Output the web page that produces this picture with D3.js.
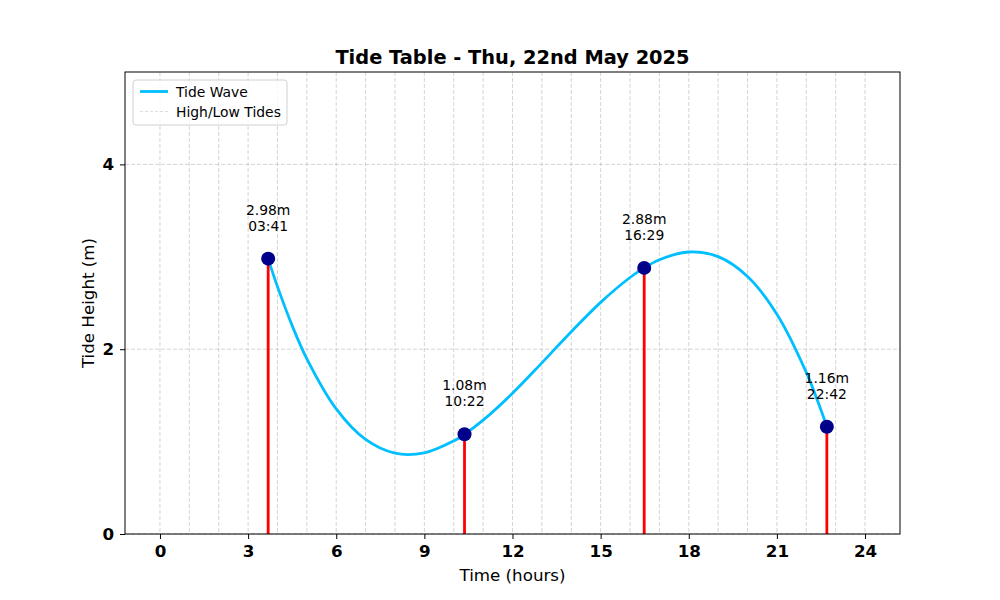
<!DOCTYPE html>
<html>
<head>
<meta charset="utf-8">
<script src="https://cdn.jsdelivr.net/npm/d3@7"></script>
<style>
  body { margin: 0; background: #fff; }
  svg { font-family: "DejaVu Sans", sans-serif; }
</style>
</head>
<body>
<svg id="chart" width="1000" height="600"></svg>
<script>
// tide extremes for the day
const tideTimes = ["03:41", "10:22", "16:29", "22:42"];
const tideHeights = [2.98, 1.08, 2.88, 1.16];

// tide wave (hours, metres)
const waveHours = [3.68, 4, 4.5, 5, 6, 7, 8, 9, 10, 10.37, 11, 12, 13, 14, 15, 16, 16.48, 17, 18, 19, 20, 21, 22, 22.5, 22.7];
const waveHeights = [2.98, 2.677, 2.255, 1.896, 1.354, 1.023, 0.874, 0.878, 1.007, 1.08, 1.232, 1.523, 1.852, 2.189, 2.507, 2.776, 2.88, 2.968, 3.052, 3.002, 2.787, 2.379, 1.749, 1.342, 1.16];

const xTicks = [0, 3, 6, 9, 12, 15, 18, 21, 24];
const yTicks = [0, 2, 4];
const gridHours = d3.range(0, 25);

const toHours = (t) => {
  const [h, m] = t.split(":").map(Number);
  return h + m / 60;
};
const tides = tideTimes.map((t, i) => ({ time: t, hour: toHours(t), height: tideHeights[i] }));
const wave = waveHours.map((h, i) => ({ hour: h, height: waveHeights[i] }));

// -------------------------------------------------
// Dimensions
// -------------------------------------------------
const margin = { top: 72, right: 100, bottom: 66, left: 125 };
const width = 1000 - margin.left - margin.right;
const height = 600 - margin.top - margin.bottom;

const svg = d3.select("#chart");
const g = svg.append("g").attr("transform", `translate(${margin.left},${margin.top})`);

const x = d3.scaleLinear().domain([-1.19, 25.19]).range([0, width]);
const y = d3.scaleLinear().domain([0, 5]).range([height, 0]);

// -------------------------------------------------
// Grid (hourly verticals, dashed)
// -------------------------------------------------
g.append("g")
  .selectAll("line")
  .data(gridHours)
  .join("line")
  .attr("x1", (d) => x(d)).attr("x2", (d) => x(d))
  .attr("y1", 0).attr("y2", height)
  .attr("stroke", "#b0b0b0").attr("stroke-opacity", 0.6)
  .attr("stroke-width", 0.9).attr("stroke-dasharray", "4,2");

g.append("g")
  .selectAll("line")
  .data(yTicks)
  .join("line")
  .attr("x1", 0).attr("x2", width)
  .attr("y1", (d) => y(d)).attr("y2", (d) => y(d))
  .attr("stroke", "#b0b0b0").attr("stroke-opacity", 0.6)
  .attr("stroke-width", 0.9).attr("stroke-dasharray", "4,2");

// -------------------------------------------------
// Tide wave, stems, markers
// -------------------------------------------------
const line = d3.line()
  .x((d) => x(d.hour))
  .y((d) => y(d.height))
  .curve(d3.curveCatmullRom.alpha(0.5));

g.append("path")
  .datum(wave)
  .attr("fill", "none")
  .attr("stroke", "#00bfff")
  .attr("stroke-width", 2.8)
  .attr("d", line);

g.selectAll(".stem")
  .data(tides)
  .join("line")
  .attr("class", "stem")
  .attr("x1", (d) => x(d.hour)).attr("x2", (d) => x(d.hour))
  .attr("y1", y(0)).attr("y2", (d) => y(d.height))
  .attr("stroke", "red")
  .attr("stroke-width", 2.8);

g.selectAll(".marker")
  .data(tides)
  .join("circle")
  .attr("class", "marker")
  .attr("cx", (d) => x(d.hour))
  .attr("cy", (d) => y(d.height))
  .attr("r", 7)
  .attr("fill", "#00008b");

const labels = g.selectAll(".tide-label")
  .data(tides)
  .join("text")
  .attr("class", "tide-label")
  .attr("text-anchor", "middle")
  .style("font-size", "13.9px")
  .attr("fill", "#000");
labels.append("tspan")
  .attr("x", (d) => x(d.hour))
  .attr("y", (d) => y(d.height) - 44)
  .text((d) => `${d.height.toFixed(2)}m`);
labels.append("tspan")
  .attr("x", (d) => x(d.hour))
  .attr("y", (d) => y(d.height) - 28)
  .text((d) => d.time);

// -------------------------------------------------
// Axes
// -------------------------------------------------
const xAxis = g.append("g")
  .attr("transform", `translate(0,${height})`)
  .call(d3.axisBottom(x).tickValues(xTicks).tickSize(5).tickPadding(6).tickFormat(d3.format("d")));
const yAxis = g.append("g")
  .call(d3.axisLeft(y).tickValues(yTicks).tickSize(5).tickPadding(6).tickFormat(d3.format("d")));

[xAxis, yAxis].forEach((a) => {
  a.select(".domain").remove();
  a.selectAll("line").attr("stroke", "#000").attr("stroke-width", 1);
  a.selectAll("text")
    .style("font-family", "DejaVu Sans, sans-serif")
    .style("font-size", "16.7px")
    .style("font-weight", "bold")
    .attr("fill", "#000");
});

// frame
g.append("rect")
  .attr("width", width).attr("height", height)
  .attr("fill", "none").attr("stroke", "#000").attr("stroke-width", 1);

// -------------------------------------------------
// Titles
// -------------------------------------------------
svg.append("text")
  .attr("x", margin.left + width / 2).attr("y", 64)
  .attr("text-anchor", "middle")
  .style("font-size", "19.4px").style("font-weight", "bold")
  .text("Tide Table - Thu, 22nd May 2025");

svg.append("text")
  .attr("x", margin.left + width / 2).attr("y", 581)
  .attr("text-anchor", "middle")
  .style("font-size", "16.7px")
  .text("Time (hours)");

svg.append("text")
  .attr("transform", `translate(94,${margin.top + height / 2}) rotate(-90)`)
  .attr("text-anchor", "middle")
  .style("font-size", "16.7px")
  .text("Tide Height (m)");

// -------------------------------------------------
// Legend
// -------------------------------------------------
const legend = svg.append("g").attr("transform", "translate(133,80)");
legend.append("rect")
  .attr("width", 154).attr("height", 45)
  .attr("rx", 3)
  .attr("fill", "#fff").attr("fill-opacity", 0.8)
  .attr("stroke", "#d0d0d0");
legend.append("line")
  .attr("x1", 7).attr("x2", 35).attr("y1", 11.5).attr("y2", 11.5)
  .attr("stroke", "#00bfff").attr("stroke-width", 2.8);
legend.append("line")
  .attr("x1", 7).attr("x2", 35).attr("y1", 31.5).attr("y2", 31.5)
  .attr("stroke", "#b0b0b0").attr("stroke-opacity", 0.6)
  .attr("stroke-width", 0.7).attr("stroke-dasharray", "3,2");
legend.append("text")
  .attr("x", 43).attr("y", 16.5)
  .style("font-size", "13.9px")
  .text("Tide Wave");
legend.append("text")
  .attr("x", 43).attr("y", 36.5)
  .style("font-size", "13.9px")
  .text("High/Low Tides");
</script>
</body>
</html>
